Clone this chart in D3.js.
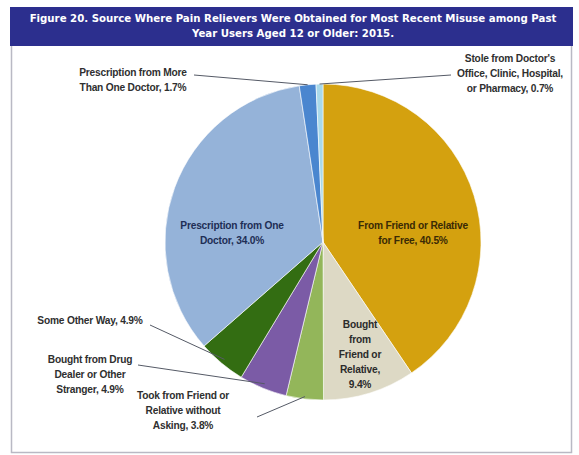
<!DOCTYPE html>
<html>
<head>
<meta charset="utf-8">
<script src="https://cdn.jsdelivr.net/npm/d3@7"></script>
<style>
  html, body { margin: 0; padding: 0; background: #ffffff; }
  svg { display: block; }
</style>
</head>
<body>
<svg id="chart" width="579" height="455"></svg>
<script>
// Sources of pain relievers, in clockwise order from 12 o'clock
const categories = [
  "From Friend or Relative for Free",
  "Bought from Friend or Relative",
  "Took from Friend or Relative without Asking",
  "Bought from Drug Dealer or Other Stranger",
  "Some Other Way",
  "Prescription from One Doctor",
  "Prescription from More Than One Doctor",
  "Stole from Doctor's Office, Clinic, Hospital, or Pharmacy"
];
const percents = [40.5, 9.4, 3.8, 4.9, 4.9, 34.0, 1.7, 0.7];
const sliceColors = ["#d4a10f", "#ddd9c5", "#93b65a", "#7b5ba6", "#336d12", "#95b3d9", "#4a86cf", "#a9d9ea"];

const titleLines = [
  "Figure 20. Source Where Pain Relievers Were Obtained for Most Recent Misuse among Past",
  "Year Users Aged 12 or Older: 2015."
];

// Label text, broken into lines
const labelLines = [
  ["From Friend or Relative", "for Free, 40.5%"],
  ["Bought", "from", "Friend or", "Relative,", "9.4%"],
  ["Took from Friend or", "Relative without", "Asking, 3.8%"],
  ["Bought from Drug", "Dealer or Other", "Stranger, 4.9%"],
  ["Some Other Way, 4.9%"],
  ["Prescription from One", "Doctor, 34.0%"],
  ["Prescription from More", "Than One Doctor, 1.7%"],
  ["Stole from Doctor's", "Office, Clinic, Hospital,", "or Pharmacy, 0.7%"]
];

const svg = d3.select("#chart");

// Frame around the chart area
svg.append("rect")
  .attr("x", 11.5).attr("y", 44.5).attr("width", 560).attr("height", 408)
  .attr("fill", "#ffffff").attr("stroke", "#b9b9c4").attr("stroke-width", 1.5);

// Title band
svg.append("rect")
  .attr("x", 10).attr("y", 7).attr("width", 563).attr("height", 39)
  .attr("fill", "#2c2f8e");

const titleG = svg.append("g");
titleLines.forEach((t, i) => {
  titleG.append("text")
    .attr("x", 293).attr("y", 22 + i * 15)
    .attr("text-anchor", "middle")
    .attr("font-family", "DejaVu Sans, sans-serif")
    .attr("font-weight", "bold")
    .attr("font-size", 10.2)
    .attr("fill", "#ffffff")
    .text(t);
});

// Pie
const cx = 323, cy = 242, R = 158;
const data = categories.map((c, i) => ({ name: c, value: percents[i], color: sliceColors[i], lines: labelLines[i] }));

const pie = d3.pie().value(d => d.value).sort(null);
const arc = d3.arc().innerRadius(0).outerRadius(R);
const arcs = pie(data);

const g = svg.append("g").attr("transform", `translate(${cx},${cy})`);
g.selectAll("path.slice")
  .data(arcs)
  .join("path")
  .attr("class", "slice")
  .attr("d", arc)
  .attr("fill", d => d.data.color)
  .attr("stroke", "#ffffff")
  .attr("stroke-width", 0.6);

// Label placement: inside labels sit on the slice; outside labels get a leader line
const placement = [
  { inside: true, x: 413, y: 229, color: "#3a2a05" },
  { inside: true, x: 360, y: 328, color: "#2b2b2b" },
  { inside: false, x: 183, y: 399, lx: 257, ly: 417, r: 0.985 },
  { inside: false, x: 90, y: 363, lx: 138, ly: 365, r: 0.97 },
  { inside: false, x: 90, y: 324, lx: 150, ly: 325, r: 0.97 },
  { inside: true, x: 232, y: 229, color: "#1e2e55" },
  { inside: false, x: 133, y: 76, lx: 194, ly: 75, r: 1.0 },
  { inside: false, x: 510, y: 62, lx: 451, ly: 75, r: 1.0 }
];

const lineH = 15;
const labelG = svg.append("g");
arcs.forEach((a, i) => {
  const p = placement[i];
  if (!p.inside) {
    const mid = (a.startAngle + a.endAngle) / 2;
    const ex = cx + R * p.r * Math.sin(mid);
    const ey = cy - R * p.r * Math.cos(mid);
    labelG.append("line")
      .attr("x1", p.lx).attr("y1", p.ly)
      .attr("x2", ex).attr("y2", ey)
      .attr("stroke", "#555a66").attr("stroke-width", 1);
  }
  a.data.lines.forEach((t, j) => {
    labelG.append("text")
      .attr("x", p.x).attr("y", p.y + j * lineH)
      .attr("text-anchor", "middle")
      .attr("font-family", "Liberation Sans, Arial, sans-serif")
      .attr("font-weight", "bold")
      .attr("font-size", 10.2)
      .attr("letter-spacing", -0.2)
      .attr("fill", p.inside ? p.color : "#2f2f2f")
      .text(t);
  });
});
</script>
</body>
</html>
